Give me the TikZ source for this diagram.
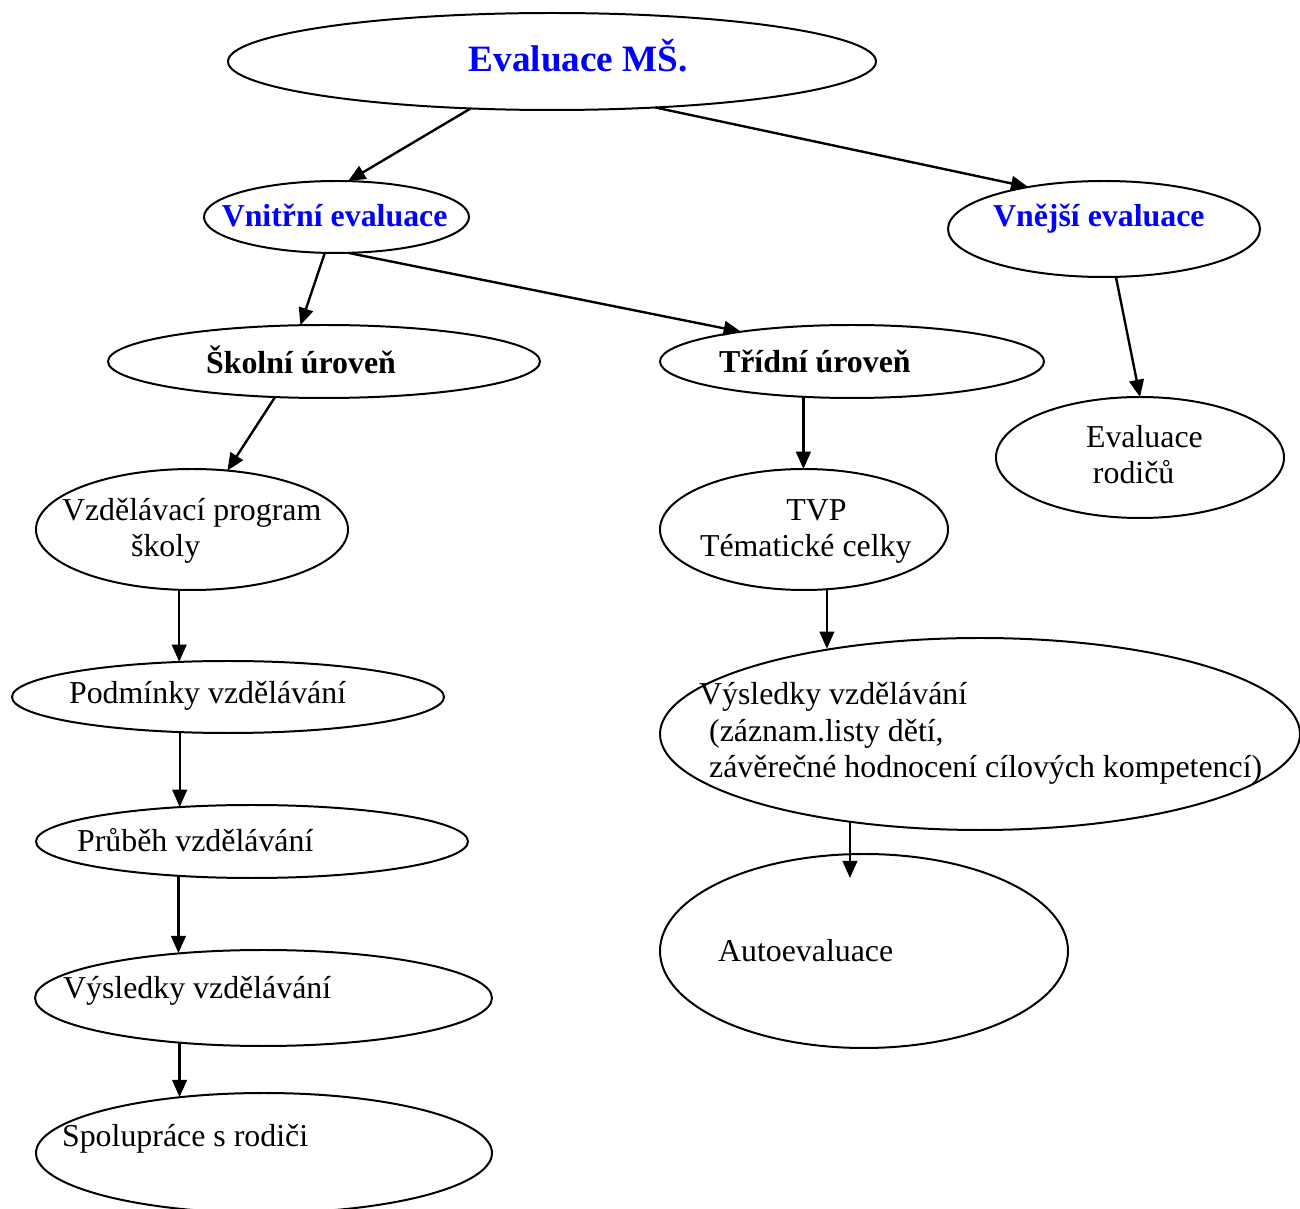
\documentclass[tikz,border=0pt]{standalone}
\usepackage{fontspec}
\setmainfont{Liberation Serif}
\usetikzlibrary{shapes,arrows.meta,positioning}

\newcommand{\px}{0.3765pt}

\begin{document}
\begin{tikzpicture}[x=0.3765pt, y=-0.3765pt, thick]
    % Styles
    \tikzstyle{oval} = [ellipse, draw, line width=0.75pt, inner sep=0pt, outer sep=0pt]
    \tikzstyle{txt} = [inner sep=0pt, anchor=base west, align=left, font=\fontsize{12}{13.8}\selectfont]
    \tikzstyle{bold} = [txt, font=\fontsize{12}{13.8}\selectfont\bfseries]
    \tikzstyle{head} = [bold, text=blue]
    \tikzstyle{arrow} = [-{Triangle[length=6.5pt, width=5.5pt]}, line width=0.9pt]

    \useasboundingbox (0,0) rectangle (1300,1209);

    % Top level
    \node [oval, minimum width=648*\px, minimum height=97*\px] (evalms) at (552,61.5) {};
    \node [oval, minimum width=265*\px, minimum height=72*\px] (vnitrni) at (336.5,217) {};
    \node [oval, minimum width=312*\px, minimum height=96*\px] (vnejsi) at (1104,229) {};

    % Second level
    \node [oval, minimum width=432*\px, minimum height=73*\px] (skolni) at (324,361.5) {};
    \node [oval, minimum width=384*\px, minimum height=73*\px] (tridni) at (852,361.5) {};
    \node [oval, minimum width=288*\px, minimum height=121*\px] (rodice) at (1140,457.5) {};

    % School branch
    \node [oval, minimum width=312*\px, minimum height=121*\px] (program) at (192,529.5) {};
    \node [oval, minimum width=432*\px, minimum height=72*\px] (podminky) at (228,697) {};
    \node [oval, minimum width=432*\px, minimum height=73*\px] (prubeh) at (252,841.5) {};
    \node [oval, minimum width=457*\px, minimum height=96*\px] (vysledkys) at (263.5,998) {};
    \node [oval, minimum width=456*\px, minimum height=120*\px] (spoluprace) at (264,1153) {};

    % Class branch
    \node [oval, minimum width=288*\px, minimum height=121*\px] (tvp) at (804,529.5) {};
    \node [oval, minimum width=640*\px, minimum height=192*\px] (vysledkyt) at (980,734) {};
    \node [oval, minimum width=408*\px, minimum height=194*\px] (autoeval) at (864,951) {};

    % Texts (multi-line ones sit on the baseline of their last line)
    \node [head, font=\fontsize{14}{16}\selectfont\bfseries] (evalms-t) at (467.7,71.7) {Evaluace MŠ.};
    \node [head] (vnitrni-t) at (220.7,226.7) {Vnitřní evaluace};
    \node [head] (vnejsi-t) at (992,227) {Vnější evaluace};
    \node [bold] (skolni-t) at (205,373.3) {Školní úroveň};
    \node [bold] (tridni-t) at (718,373) {Třídní úroveň};
    \node [txt] (rodice-t) at (1085,484) {Evaluace\\\hspace*{2.6pt}rodičů};
    \node [txt] (program-t) at (61,557) {Vzdělávací program\\\hspace*{26pt}školy};
    \node [txt, align=center] (tvp-t) at (699,557) {\hspace*{8pt}TVP\\Tématické celky};
    \node [txt] (podminky-t) at (68,704) {Podmínky vzdělávání};
    \node [txt] (vysledkyt-t) at (698,778) {Výsledky vzdělávání\\\hspace*{3.8pt}(záznam.listy dětí,\\\hspace*{3.8pt}závěrečné hodnocení cílových kompetencí)};
    \node [txt] (prubeh-t) at (76,852) {Průběh vzdělávání};
    \node [txt] (autoeval-t) at (717,962) {Autoevaluace};
    \node [txt] (vysledkys-t) at (62,999) {Výsledky vzdělávání};
    \node [txt] (spoluprace-t) at (61,1147) {Spolupráce s rodiči};

    % Connections
    \draw [arrow] (evalms.210) -- (vnitrni.72);
    \draw [arrow] (evalms.-24) -- (vnejsi.151);
    \draw [arrow] (vnitrni.252.3) -- (skolni.123.3);
    \draw [arrow] (vnitrni.-72.3) -- (tridni.165);
    \draw [arrow] (vnejsi.284) -- (rodice.90);
    \draw [arrow] (skolni.216.5) -- (program.59);
    \draw [arrow] (tridni.216.3) -- (tridni.216.3 |- tvp.90);

    \draw [arrow] (program.258.7) -- (program.258.7 |- podminky.143.8);
    \draw [arrow] (podminky.216.2) -- (podminky.216.2 |- prubeh.154.5);
    \draw [arrow] (prubeh.205.5) -- (prubeh.205.5 |- vysledkys.151.8);
    \draw [arrow] (vysledkys.208.2) -- (vysledkys.208.2 |- spoluprace.146.4);

    \draw [arrow] (tvp.291.9) -- (tvp.291.9 |- vysledkyt.150.9);
    \draw [arrow, shorten >=-9pt] (vysledkyt.214.5) -- (vysledkyt.214.5 |- autoeval.97.1);

\end{tikzpicture}
\end{document}
